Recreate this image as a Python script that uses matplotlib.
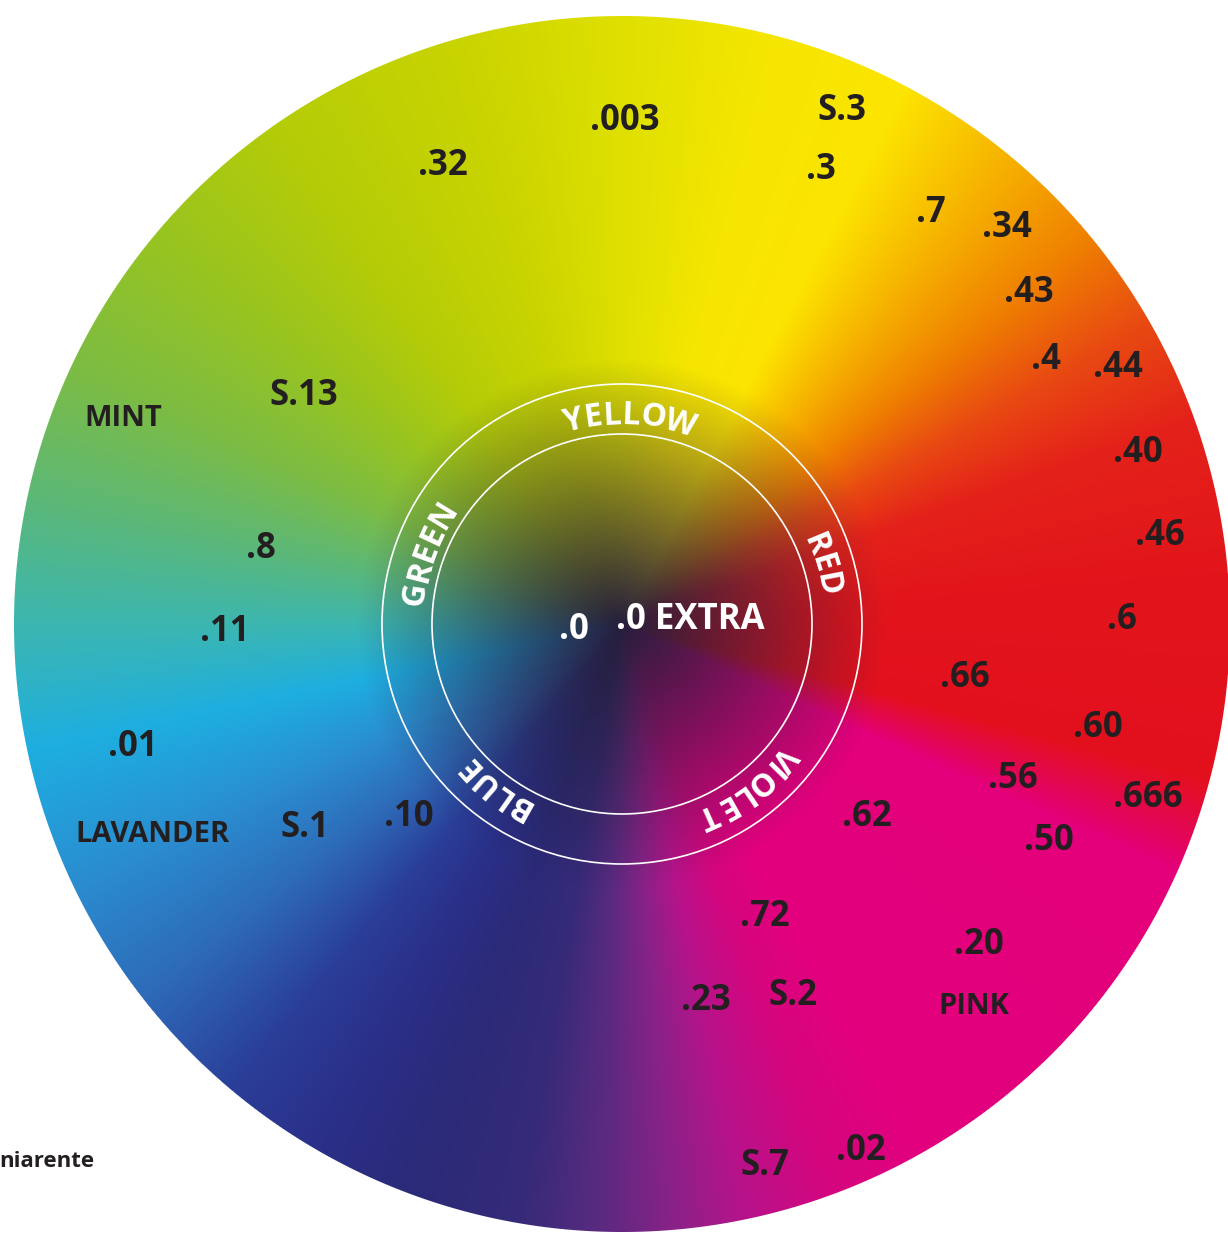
import numpy as np
import matplotlib
matplotlib.use("Agg")
import matplotlib.pyplot as plt
from matplotlib.patches import Circle
from matplotlib.colors import to_rgb
from matplotlib.font_manager import FontProperties
from matplotlib.textpath import TextToPath

# ---------------- data ----------------
# hue stops of the conic colour wheel (math angle in degrees, colour)
stop_angles = [-168, -155, -142, -130, -120, -110, -100, -92, -85, -78, -70, -60,
               -24, -15, 5, 20, 30, 40, 50, 62, 75, 90, 105, 125, 140, 155, 168, 180]
stop_colors = ["#1eaee0", "#2a8ed0", "#2e6ab8", "#2a3e98", "#2a2f88", "#2b2a78",
               "#352a78", "#5a2a80", "#8a2288", "#b8128a", "#d4067e", "#e4007e",
               "#e3007a", "#e3101e", "#e2151b", "#e4221a", "#e84a12", "#ef8200",
               "#f6b000", "#fce400", "#f6e600", "#dfe000", "#cad400", "#b4cc08",
               "#98c420", "#7cbc44", "#5cb878", "#3cb6b0"]
center_dark = "#261f3c"

number_labels = [".003", ".32", "S.3", ".3", ".7", ".34", ".43", ".4", ".44", ".40",
                 ".46", ".6", ".66", ".60", ".56", ".666", ".50", ".62", ".72", ".20",
                 ".23", "S.2", "S.7", ".02", "S.13", ".8", ".11", ".01", "S.1", ".10"]
number_x = [625, 443, 842, 821, 931, 1007, 1029, 1046, 1118, 1138,
            1160, 1122, 965, 1098, 1013, 1148, 1049, 867, 765, 979,
            706, 793, 765, 861, 304, 261, 225, 133, 305, 409]
number_y = [118, 163, 108, 167, 210, 225, 290, 357, 365, 450,
            533, 617, 675, 725, 776, 795, 838, 814, 914, 942,
            998, 993, 1163, 1148, 393, 546, 629, 744, 825, 814]

word_labels = ["MINT", "LAVANDER", "PINK"]
word_x = [123, 153, 974]
word_y = [415, 832, 1004]

center_labels = [".0", ".0 EXTRA"]
center_x = [574, 690]
center_y = [627, 617]

ring_labels = ["YELLOW", "RED", "VIOLET", "BLUE", "GREEN"]
ring_angles = [87.8, 16.6, -52.6, -128, 160]

side_note = "niarente"

# ---------------- figure ----------------
W, H = 1228, 1233
CX, CY, R = 622, 624, 608
DPI = 100

fig = plt.figure(figsize=(W / DPI, H / DPI), dpi=DPI)
ax = fig.add_axes([0, 0, 1, 1])
ax.set_xlim(0, W)
ax.set_ylim(H, 0)
ax.axis("off")

# conic gradient image
yy, xx = np.mgrid[0:H, 0:W] + 0.5
dx = xx - CX
dy = CY - yy
r = np.hypot(dx, dy)
ang = np.degrees(np.arctan2(dy, dx))
cols = np.array([to_rgb(c) for c in stop_colors])
img = np.zeros((H, W, 4))
for k in range(3):
    img[..., k] = np.interp(ang, stop_angles, cols[:, k], period=360)
dark = np.array(to_rgb(center_dark))
t = np.clip(r / 265.0, 0, 1)[..., None]
img[..., :3] = dark + (img[..., :3] - dark) * t
img[..., 3] = np.clip(R - r + 0.5, 0, 1)
ax.imshow(img, extent=(0, W, H, 0), origin="upper", interpolation="bilinear", zorder=0)

# white rings
for rr in (240, 190):
    ax.add_patch(Circle((CX, CY), rr, fill=False, ec="white", lw=1.2, zorder=2))

FAM = ["Open Sans", "DejaVu Sans"]
TXT = "#231f20"

for s, x, y in zip(number_labels, number_x, number_y):
    ax.text(x, y + 12, s, ha="center", va="baseline", fontsize=25,
            fontweight="bold", family=FAM, color=TXT, zorder=3)
for s, x, y in zip(word_labels, word_x, word_y):
    ax.text(x, y + 10.5, s, ha="center", va="baseline", fontsize=21,
            fontweight="bold", family=FAM, color=TXT, zorder=3)
for s, x, y in zip(center_labels, center_x, center_y):
    ax.text(x, y + 12, s, ha="center", va="baseline", fontsize=25,
            fontweight="bold", family=FAM, color="white", zorder=3)

ax.text(-1, 1160 + 7, side_note, ha="left", va="baseline", fontsize=16,
        fontweight="bold", family=FAM, color=TXT, zorder=3)

# curved ring labels
ring_fs = 23
fp = FontProperties(family=FAM, weight="bold", size=ring_fs)
t2p = TextToPath()


def width_px(s):
    if not s:
        return 0.0
    w, h, d = t2p.get_text_width_height_descent(s, fp, ismath=False)
    return w * DPI / 72.0


R_BASE = 200
for word, a0 in zip(ring_labels, ring_angles):
    total = width_px(word)
    for i, ch in enumerate(word):
        c = (width_px(word[:i]) + width_px(word[:i + 1])) / 2.0
        off = (c - total / 2.0) / R_BASE
        a = np.radians(a0) - off
        x = CX + R_BASE * np.cos(a)
        y = CY - R_BASE * np.sin(a)
        ax.text(x, y, ch, ha="center", va="baseline", rotation=np.degrees(a) - 90,
                rotation_mode="anchor", fontproperties=fp, color="white", zorder=3)

fig.savefig("out.png", dpi=DPI)
